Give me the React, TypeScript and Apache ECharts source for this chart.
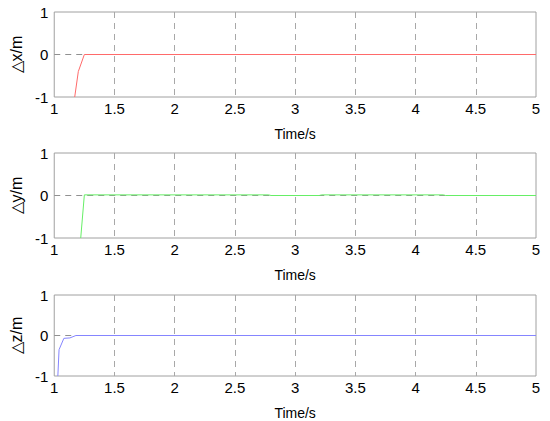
import React, { useEffect, useRef } from "react";
import * as echarts from "echarts";

const xTicks = [1, 1.5, 2, 2.5, 3, 3.5, 4, 4.5, 5];
const yNames = ["△x/m", "△y/m", "△z/m"];
const dxSeries: [number, number][] = [[1.17, -1], [1.2, -0.4], [1.25, 0], [5, 0]];
const dySeries: [number, number][] = [[1.22, -1], [1.25, 0.015], [2.78, 0.015], [2.8, 0], [3.2, 0], [3.22, 0.015], [4.23, 0.015], [4.25, 0], [5, 0]];
const dzSeries: [number, number][] = [[1.03, -1], [1.04, -0.35], [1.08, -0.07], [1.13, -0.06], [1.18, 0], [5, 0]];
const colors = ["#ff6a6a", "#66ee66", "#8585ff"];
const zeroDashEnd = [5, 5, 1.18];

export default function App() {
  const ref = useRef<HTMLDivElement>(null);
  useEffect(() => {
    const chart = echarts.init(ref.current!, null, { renderer: "svg" });
    const tops = [12, 153, 295];
    const heights = [85, 85, 85];
    const data = [dxSeries, dySeries, dzSeries];
    const font = "Arial, 'Liberation Sans', sans-serif";
    const T = "rgba(0,0,0,0)";
    const dash = { type: [6, 5], color: "#909090", width: 1 };
    const xGridColors = xTicks.map((_, k) => (k === 0 || k === xTicks.length - 1 ? T : "#a8a8a8"));
    chart.setOption({
      animation: false,
      backgroundColor: "#ffffff",
      grid: tops.map((t, i) => ({
        left: 48,
        right: 14,
        top: t,
        height: heights[i],
        show: true,
        borderColor: "#a0a0a0",
        borderWidth: 1,
      })),
      xAxis: tops.map((_, i) => ({
        type: "value",
        gridIndex: i,
        min: 1,
        max: 5,
        interval: 0.5,
        name: "Time/s",
        nameLocation: "middle",
        nameGap: 30,
        nameTextStyle: { fontFamily: font, fontSize: 14, color: "#000" },
        axisLine: { show: false, onZero: false },
        axisTick: { show: false },
        axisLabel: {
          margin: 4,
          fontFamily: font,
          fontSize: 15,
          color: "#000",
          formatter: (v: number) => (xTicks.includes(v) ? String(v) : ""),
        },
        splitLine: {
          show: true,
          lineStyle: { type: [6, 5], color: xGridColors, width: 1 },
        },
      })),
      yAxis: tops.map((_, i) => ({
        type: "value",
        gridIndex: i,
        min: -1,
        max: 1,
        interval: 1,
        name: yNames[i],
        nameLocation: "middle",
        nameGap: 29,
        nameTextStyle: { fontFamily: font, fontSize: 16, color: "#000" },
        axisLine: { show: false, onZero: false },
        axisTick: { show: false },
        axisLabel: { margin: 6, fontFamily: font, fontSize: 15, color: "#000" },
        splitLine: { show: false },
      })),
      series: data.map((d, i) => ({
        type: "line",
        xAxisIndex: i,
        yAxisIndex: i,
        data: d,
        showSymbol: false,
        z: 5,
        lineStyle: { color: colors[i], width: 1 },
        markLine: {
          silent: true,
          symbol: "none",
          label: { show: false },
          lineStyle: dash,
          data: [[{ coord: [1, 0] }, { coord: [zeroDashEnd[i], 0] }]],
        },
      })),
    });
    return () => chart.dispose();
  }, []);
  return <div ref={ref} style={{ width: 550, height: 421, position: "absolute", left: 0, top: 0 }} />;
}
